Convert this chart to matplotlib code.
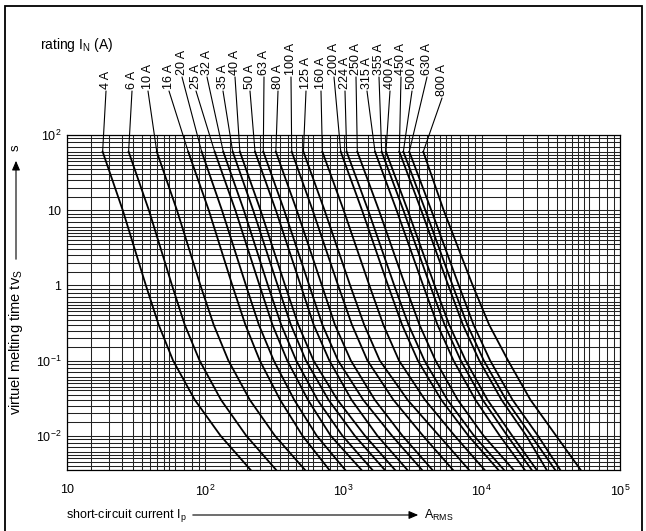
import matplotlib
matplotlib.use("Agg")
import matplotlib.pyplot as plt
from matplotlib.ticker import FixedLocator, NullFormatter
from matplotlib.patches import ConnectionPatch, FancyArrowPatch, Rectangle

plt.rcParams["font.family"] = ["Liberation Sans", "DejaVu Sans"]
plt.rcParams["mathtext.fontset"] = "custom"
plt.rcParams["mathtext.rm"] = "Liberation Sans"
plt.rcParams["mathtext.it"] = "Liberation Sans:italic"

# ---- data: fuse ratings and melting-time curves -------------------------
ratings = [4, 6, 10, 16, 20, 25, 32, 35, 40, 50, 63, 80, 100, 125, 160,
           200, 224, 250, 315, 355, 400, 450, 500, 630, 800]

times_s = [60, 10, 1, 0.3, 0.1, 0.03, 0.01, 0.0035]

# prospective current (A) needed to melt each fuse within the given time
i_60s = [18.1, 27.9, 44.6, 75.3, 94.2, 117, 135, 158, 178, 229, 263, 324, 422,
         513, 703, 955, 1054, 1259, 1690, 1888, 2028, 2535, 2710, 2992, 3776]
i_10s = [25.3, 39.1, 62.4, 106, 132, 165, 190, 222, 251, 324, 372, 459, 598,
         729, 1002, 1361, 1507, 1803, 2421, 2710, 2911, 3648, 3908, 4315, 5300]
i_1s = [37.2, 57.5, 92.3, 157, 197, 247, 284, 334, 378, 490, 565, 698, 914,
        1117, 1538, 2099, 2328, 2793, 3767, 4227, 4560, 5728, 6152, 6823, 8600]
i_300ms = [46, 71, 115, 195, 244, 306, 354, 416, 471, 608, 703, 866, 1150,
           1410, 1940, 2650, 2950, 3540, 4780, 5380, 5810, 7300, 7860, 8720,
           11300]
i_100ms = [58.5, 91, 147, 248, 313, 392, 455, 535, 607, 790, 913, 1130, 1490,
           1830, 2520, 3450, 3850, 4630, 6250, 7050, 7650, 9600, 10350, 11500,
           15500]
i_30ms = [84, 130, 210, 348, 440, 553, 648, 779, 904, 1143, 1388, 1684, 2295,
          2907, 3885, 5096, 5642, 6700, 9000, 10150, 11000, 13900, 15000,
          16700, 22500]
i_10ms = [129, 198, 319, 505, 640, 808, 982, 1206, 1430, 1758, 2242, 2667, 3758,
          4909, 6364, 8000, 8788, 10303, 13500, 15300, 16600, 21000, 22800,
          25500, 34500]
i_3ms5 = [213, 326, 527, 790, 1030, 1350, 1620, 1990, 2360, 2900, 3700, 4400,
          6200, 8100, 10500, 13200, 14500, 17000, 20500, 23000, 25000, 29500,
          34000, 37000, 52000]

x_tick_vals = [10, 1e2, 1e3, 1e4, 1e5]
x_tick_text = ["10", "$10^{2}$", "$10^{3}$", "$10^{4}$", "$10^{5}$"]
y_tick_vals = [1e-2, 1e-1, 1, 10, 1e2]
y_tick_text = ["$10^{-2}$", "$10^{-1}$", "1", "10", "$10^{2}$"]

# ---- layout (pixels) -----------------------------------------------------
W, H = 646, 531
L, R, T, B = 67, 620, 135, 470

# rating label positions: x centre and foot (from top) in pixels
label_x = [106, 132, 148, 169, 182, 196, 207, 223, 235, 250, 264, 278, 291,
           306, 321, 334, 345, 356, 367, 379, 390, 401, 412, 427, 442]
label_foot = [89, 89, 89, 89, 75, 89, 75, 89, 75, 89, 75, 89, 75,
              89, 89, 75, 89, 75, 89, 75, 89, 75, 89, 75, 96]

fig = plt.figure(figsize=(W / 100, H / 100), dpi=100)
ax = fig.add_axes([L / W, 1 - B / H, (R - L) / W, (B - T) / H])
ax.set_xscale("log")
ax.set_yscale("log")
ax.set_xlim(10, 1e5)
ax.set_ylim(0.0035, 1e2)

steps = [1.5, 2, 2.5, 3, 3.5, 4, 4.5, 5, 5.5, 6, 7, 8, 9]
ax.xaxis.set_major_locator(FixedLocator(x_tick_vals))
ax.yaxis.set_major_locator(FixedLocator(y_tick_vals))
ax.xaxis.set_minor_locator(FixedLocator([s * 10 ** e for e in range(1, 5) for s in steps]))
ax.yaxis.set_minor_locator(FixedLocator([s * 10 ** e for e in range(-3, 2) for s in steps]))
ax.xaxis.set_minor_formatter(NullFormatter())
ax.yaxis.set_minor_formatter(NullFormatter())
ax.set_xticklabels(x_tick_text)
ax.set_yticklabels(y_tick_text)
ax.tick_params(which="both", length=0, labelsize=9)
ax.tick_params(axis="x", pad=10)
ax.tick_params(axis="y", pad=4)
ax.grid(True, which="both", color="#222222", lw=0.75)
ax.set_axisbelow(True)
for sp in ax.spines.values():
    sp.set_linewidth(0.9)

columns = [i_60s, i_10s, i_1s, i_300ms, i_100ms, i_30ms, i_10ms, i_3ms5]
for k, rating in enumerate(ratings):
    currents = [col[k] for col in columns]
    ax.plot(currents, times_s, color="black", lw=1.3, solid_joinstyle="round",
            clip_on=True, zorder=3)
    # rating label with leader line down to the start of its curve
    fig.text(label_x[k] / W, 1 - label_foot[k] / H, f"{rating} A",
             rotation=90, ha="center", va="bottom", fontsize=9)
    con = ConnectionPatch(xyA=(label_x[k], H - label_foot[k] - 2),
                          coordsA="figure pixels",
                          xyB=(currents[0], times_s[0]), coordsB="data",
                          axesB=ax, color="black", lw=0.8)
    fig.add_artist(con)

fig.text(40 / W, 1 - 45 / H, "rating I$_\\mathrm{N}$ (A)", fontsize=10,
         ha="left", va="center")

# x-axis caption with arrow
fig.text(66 / W, 1 - 515 / H, "short-circuit current I$_\\mathrm{p}$",
         fontsize=9, ha="left", va="center")
fig.add_artist(FancyArrowPatch((190 / W, 1 - 515 / H), (421 / W, 1 - 515 / H),
                               transform=fig.transFigure,
                               arrowstyle="-|>,head_length=0.7,head_width=0.3",
                               mutation_scale=8, lw=0.8, color="black"))
fig.text(424 / W, 1 - 515 / H, "A$_\\mathrm{RMS}$", fontsize=9,
         ha="left", va="center")

# y-axis caption with arrow
fig.text(16 / W, 1 - 342 / H, "virtuel melting time tv$_\\mathrm{S}$",
         fontsize=10.5, rotation=90, ha="center", va="center")
fig.add_artist(FancyArrowPatch((16 / W, 1 - 262 / H), (16 / W, 1 - 158 / H),
                               transform=fig.transFigure,
                               arrowstyle="-|>,head_length=0.7,head_width=0.3",
                               mutation_scale=8, lw=0.8, color="black"))
fig.text(16 / W, 1 - 148 / H, "s", fontsize=9.5, rotation=90,
         ha="center", va="center")

# outer frame
fig.add_artist(Rectangle((5 / W, -0.05), (642 - 5) / W, 1.05 - 6 / H,
                         transform=fig.transFigure, fill=False,
                         lw=1.3, color="black"))

fig.savefig("out.png", dpi=100)
